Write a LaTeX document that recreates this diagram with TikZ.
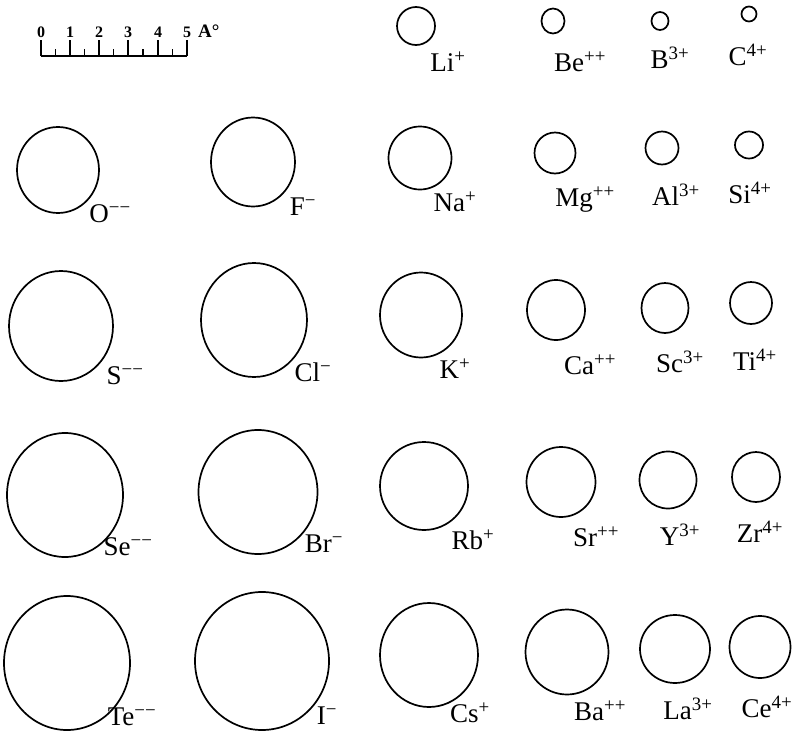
\documentclass[tikz,border=0pt]{standalone}
\usepackage{fontspec}
\setmainfont{Liberation Serif}
\usetikzlibrary{shapes.geometric}
\tikzset{
  ion/.style={ellipse, draw, line width=1.7pt, inner sep=0pt},
  lab/.style={font=\fontsize{27}{27}\selectfont, inner sep=0pt},
  num/.style={font=\bfseries\fontsize{16}{16}\selectfont, inner sep=0pt},
  unitlab/.style={font=\bfseries\fontsize{19}{19}\selectfont, inner sep=0pt},
  bar/.style={line width=1.8pt},
}
\newcommand\ionat[8]{%
  \node[ion, minimum width={2*#4pt}, minimum height={2*#5pt}] (#1) at (#2,#3) {};
  \node[lab] (#1l) at (#7,#8) {#6};}
\begin{document}
\begin{tikzpicture}[x=1pt,y=-1pt]
\useasboundingbox (0,0) rectangle (793,734);
% scale bar
\draw[bar] (41,56) -- (187,56);
\foreach \i/\x in {0/41,1/70,2/99,3/128,4/158,5/187}{
  \draw[bar] (\x,56) -- (\x,40);
  \node[num] (n\i) at (\x,32) {\i};
}
\foreach \x in {55.5,84.5,113.5,143,172.5}{
  \draw[bar] (\x,56) -- (\x,49);
}
\node[unitlab, anchor=west] (unit) at (198,31) {A°};
% row 0
\ionat{Li}{416}{26}{19}{19}{Li\textsuperscript{+}}{448}{62}
\ionat{Be}{553}{21}{11.5}{12.5}{Be\textsuperscript{++}}{580}{62}
\ionat{B}{660}{21}{8.5}{9}{B\textsuperscript{3+}}{670}{58}
\ionat{C}{749}{14}{7.5}{7.5}{C\textsuperscript{4+}}{748}{55}
% row 1
\ionat{O}{58}{170}{41}{43}{O\textsuperscript{−−}}{110}{214}
\ionat{F}{253}{162}{42}{44.5}{F\textsuperscript{−}}{303}{207}
\ionat{Na}{420}{158}{31.5}{31.5}{Na\textsuperscript{+}}{455}{202}
\ionat{Mg}{555}{153}{20.5}{20.5}{Mg\textsuperscript{++}}{585}{200}
\ionat{Al}{662}{148}{16.5}{16.5}{Al\textsuperscript{3+}}{676}{195}
\ionat{Si}{749}{145}{14}{13.5}{Si\textsuperscript{4+}}{750}{193}
% row 2
\ionat{S}{61}{326}{52}{55}{S\textsuperscript{−−}}{125}{376}
\ionat{Cl}{254}{320}{53}{57}{Cl\textsuperscript{−}}{313}{372}
\ionat{K}{421}{315}{41}{42.5}{K\textsuperscript{+}}{455}{369}
\ionat{Ca}{556}{310}{29}{30}{Ca\textsuperscript{++}}{590}{365}
\ionat{Sc}{665}{308}{23.5}{25}{Sc\textsuperscript{3+}}{680}{362}
\ionat{Ti}{751}{303}{21}{21}{Ti\textsuperscript{4+}}{755}{360}
% row 3
\ionat{Se}{65}{495}{58}{62}{Se\textsuperscript{−−}}{128}{547}
\ionat{Br}{258}{492}{59.5}{62}{Br\textsuperscript{−}}{324}{544}
\ionat{Rb}{424}{486}{44}{44}{Rb\textsuperscript{+}}{473}{540}
\ionat{Sr}{561}{482}{34.5}{35}{Sr\textsuperscript{++}}{596}{537}
\ionat{Y}{668}{480}{28.5}{28.5}{Y\textsuperscript{3+}}{680}{535}
\ionat{Zr}{756}{477}{24}{25}{Zr\textsuperscript{4+}}{760}{532}
% row 4
\ionat{Te}{67}{663}{63}{67}{Te\textsuperscript{−−}}{132}{717}
\ionat{I}{262}{661}{67}{69}{I\textsuperscript{−}}{327}{716}
\ionat{Cs}{429}{655}{49}{52}{Cs\textsuperscript{+}}{470}{713}
\ionat{Ba}{567}{652}{41.5}{42.5}{Ba\textsuperscript{++}}{600}{711}
\ionat{La}{675}{649}{35}{34}{La\textsuperscript{3+}}{688}{709}
\ionat{Ce}{760}{647}{30.5}{31}{Ce\textsuperscript{4+}}{767}{707}
\end{tikzpicture}
\end{document}
